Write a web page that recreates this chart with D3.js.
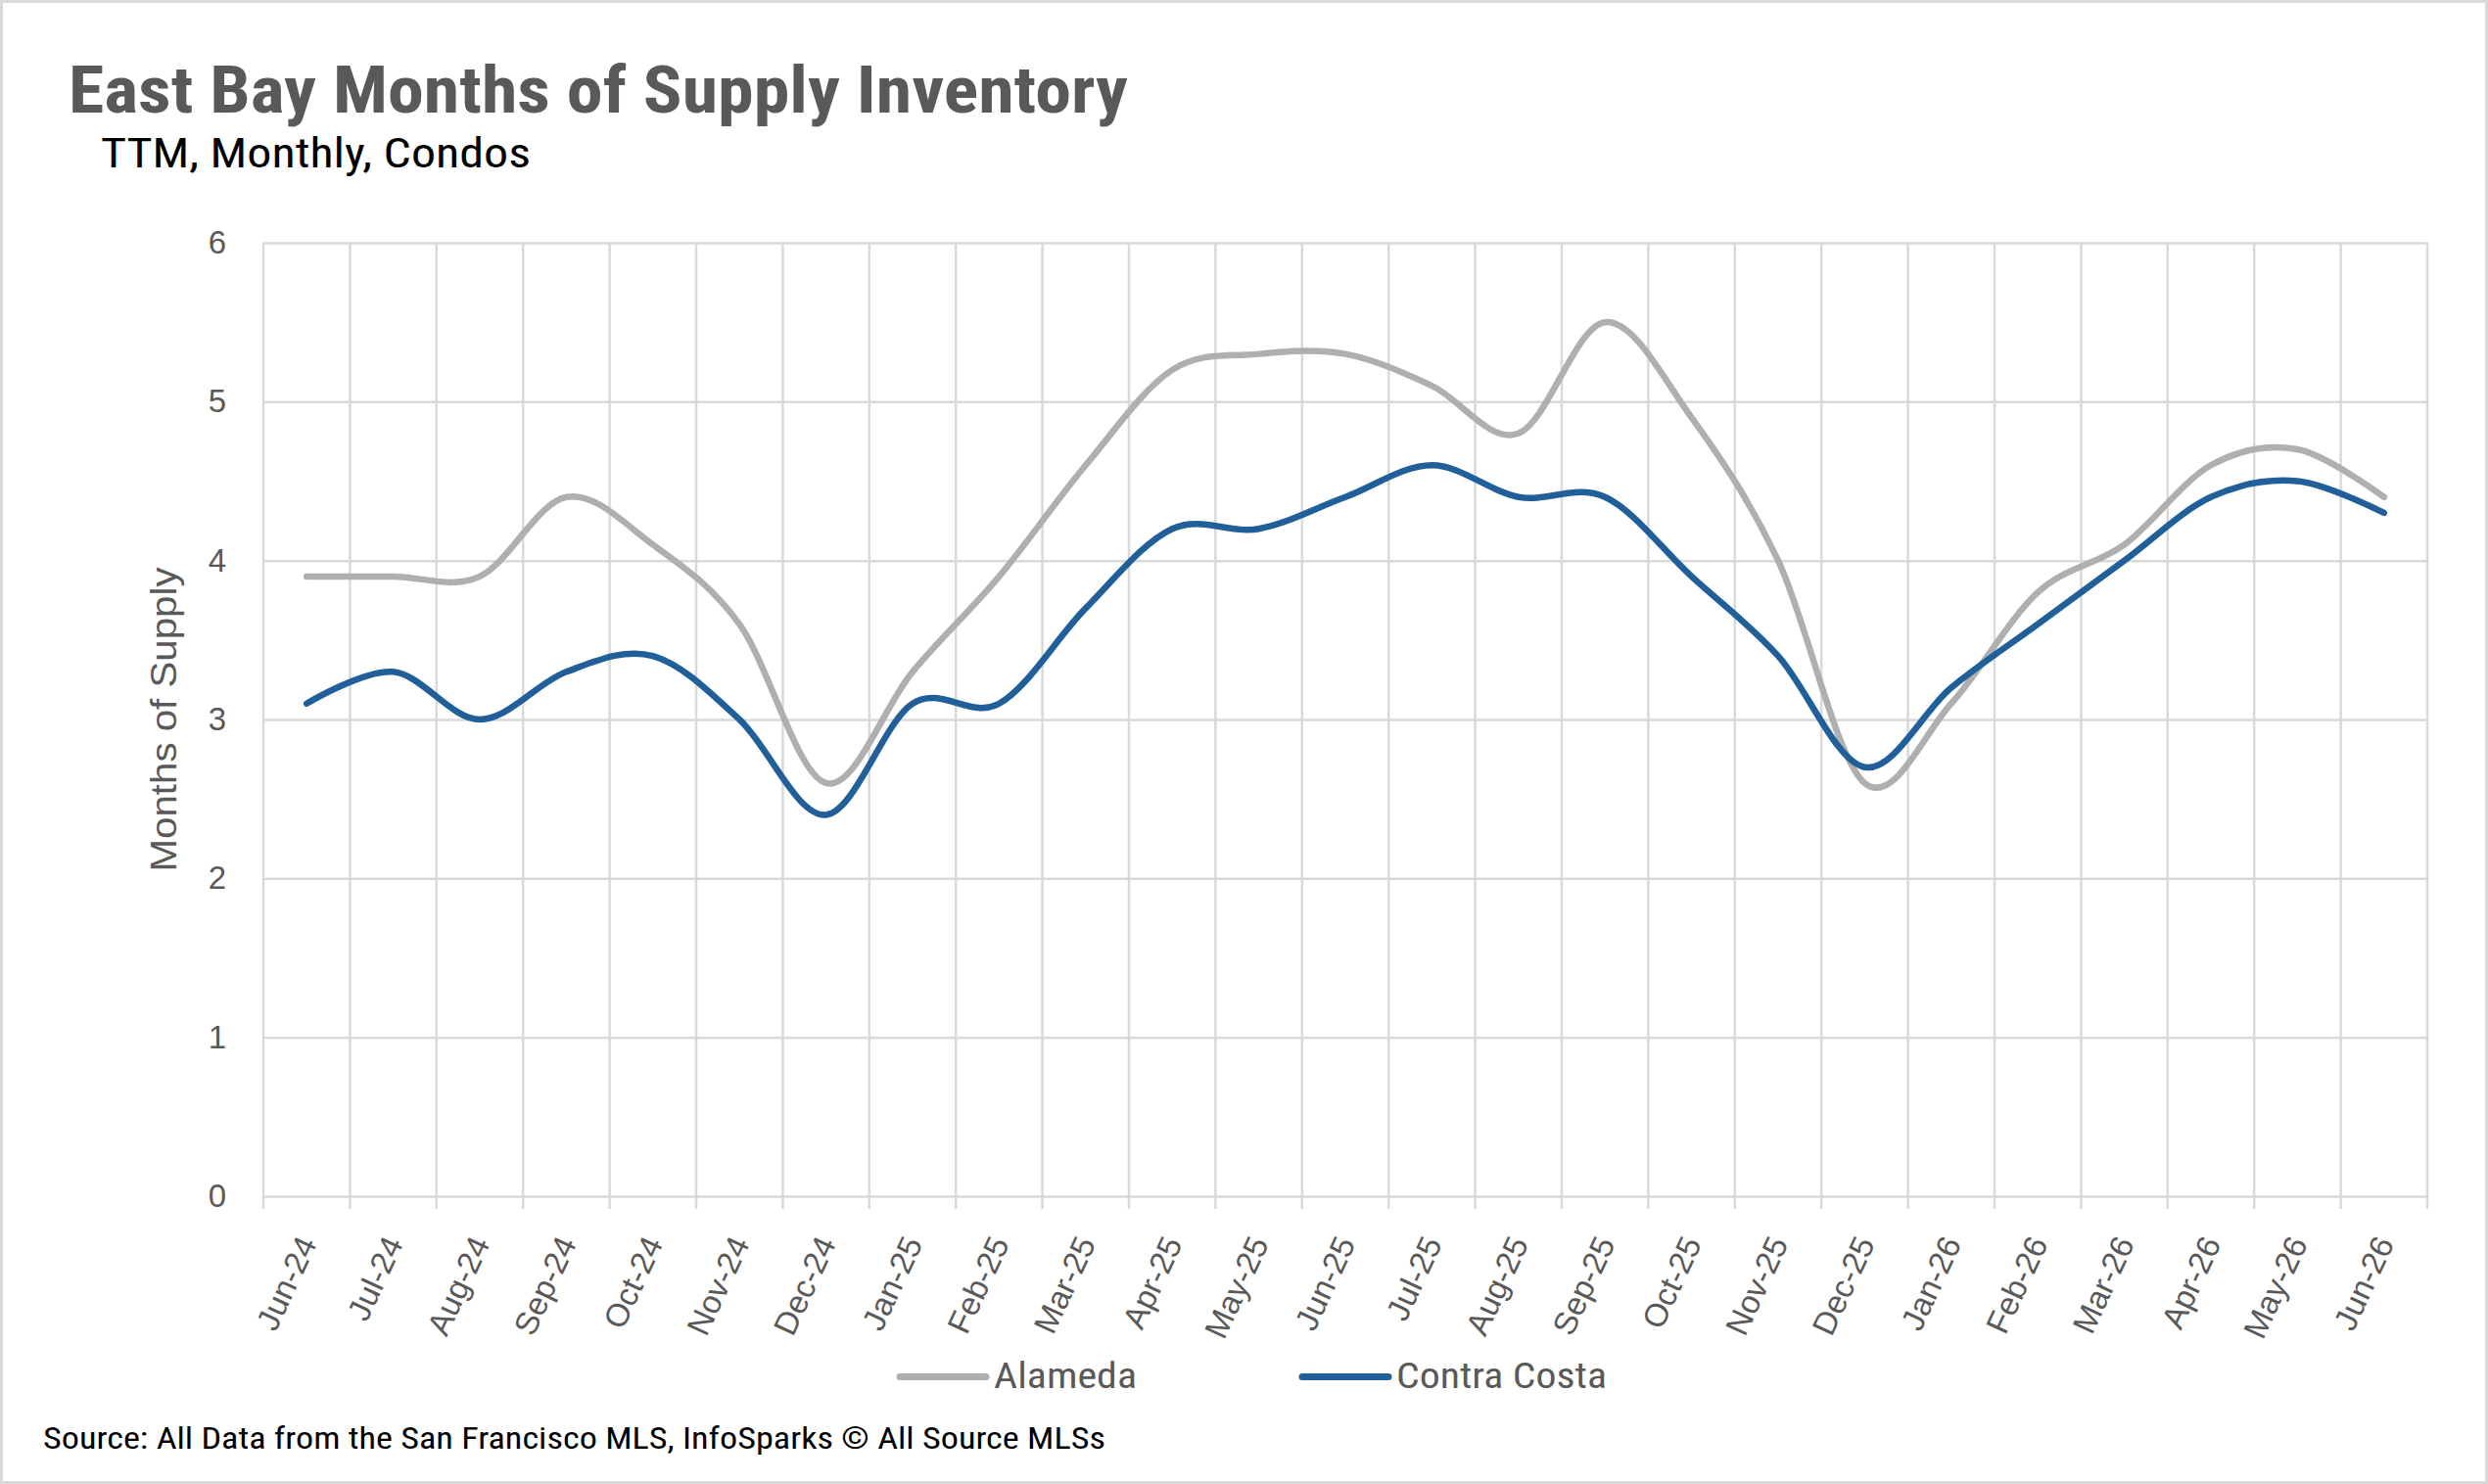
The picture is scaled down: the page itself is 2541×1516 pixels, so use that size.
<!DOCTYPE html>
<html><head><meta charset="utf-8">
<script src="https://cdn.jsdelivr.net/npm/d3@7"></script>
<style>html,body{margin:0;padding:0;background:#fff;} svg{display:block;}</style>
</head><body>
<svg id="chart" width="2541" height="1516"></svg>
<script>
const months = ["Jun-24","Jul-24","Aug-24","Sep-24","Oct-24","Nov-24","Dec-24","Jan-25","Feb-25","Mar-25","Apr-25","May-25","Jun-25","Jul-25","Aug-25","Sep-25","Oct-25","Nov-25","Dec-25","Jan-26","Feb-26","Mar-26","Apr-26","May-26","Jun-26"];
const alameda = [3.9,3.9,3.9,4.4,4.1,3.6,2.6,3.3,3.9,4.6,5.2,5.3,5.3,5.1,4.8,5.5,4.9,4.0,2.6,3.1,3.8,4.1,4.6,4.7,4.4];
const contraCosta = [3.1,3.3,3.0,3.3,3.4,3.0,2.4,3.1,3.1,3.7,4.2,4.2,4.4,4.6,4.4,4.4,3.9,3.4,2.7,3.2,3.6,4.0,4.4,4.5,4.3];
const yTicks = [0,1,2,3,4,5,6];
const seriesNames = ["Alameda","Contra Costa"];
const seriesColors = ["#afafaf","#215f9a"];

const W = 2541, H = 1516;
const M = {left:269, right:2479, top:248, bottom:1222};
const narrow = "'Liberation Sans Narrow','Arial Narrow','Roboto Condensed','DejaVu Sans Condensed',sans-serif";
const regular = "'Liberation Sans',Arial,sans-serif";

const svg = d3.select("#chart");
svg.append("rect").attr("x",0).attr("y",0).attr("width",W).attr("height",H).attr("fill","#fff");
svg.append("rect").attr("x",1.5).attr("y",1.5).attr("width",W-3).attr("height",H-3)
  .attr("fill","none").attr("stroke","#d9d9d9").attr("stroke-width",3);

const x = d3.scaleBand().domain(months).range([M.left, M.right]).padding(0);
const y = d3.scaleLinear().domain([0,6]).range([M.bottom, M.top]);
const cx = m => x(m) + x.bandwidth()/2;

// horizontal gridlines + y labels
const gy = svg.append("g").attr("transform",`translate(${M.left},0)`)
  .call(d3.axisLeft(y).tickValues(yTicks).tickSize(-(M.right-M.left)).tickPadding(38).tickFormat(d3.format("d")));
gy.select(".domain").remove();
gy.selectAll(".tick line").attr("stroke","#d9d9d9").attr("stroke-width",2.5);
gy.selectAll(".tick text").attr("font-family",regular).attr("font-size",33).attr("fill","#595959");

// vertical gridlines at category boundaries (with tick marks below axis)
const bounds = months.map(m => x(m)).concat([x.range()[1]]);
svg.append("g").selectAll("line").data(bounds).join("line")
  .attr("x1",d=>d).attr("x2",d=>d).attr("y1",y(6)).attr("y2",M.bottom+13)
  .attr("stroke","#d9d9d9").attr("stroke-width",2.5);

// x labels
svg.append("g").selectAll("text").data(months).join("text")
  .attr("transform",d=>`translate(${cx(d)+11},1270) rotate(-65)`)
  .attr("text-anchor","end")
  .attr("font-family",regular).attr("font-size",33).attr("fill","#595959")
  .text(d=>d);

// y axis title
svg.append("text").attr("transform",`translate(180,${(M.top+M.bottom)/2}) rotate(-90)`)
  .attr("text-anchor","middle").attr("font-family",regular).attr("font-size",36)
  .attr("fill","#595959").attr("textLength",311).attr("lengthAdjust","spacingAndGlyphs")
  .text("Months of Supply");

// lines
const line = d3.line().x((d,i)=>cx(months[i])).y(d=>y(d)).curve(d3.curveCatmullRom.alpha(0));
[alameda, contraCosta].forEach((s,k)=>{
  svg.append("path").datum(s).attr("d",line).attr("fill","none")
    .attr("stroke",seriesColors[k]).attr("stroke-width",6.5)
    .attr("stroke-linecap","round").attr("stroke-linejoin","round");
});

// legend
const legX = [919, 1330], legTX = [1015, 1426], legLen = [146, 215];
seriesNames.forEach((n,k)=>{
  svg.append("line").attr("x1",legX[k]).attr("x2",legX[k]+88).attr("y1",1406.5).attr("y2",1406.5)
    .attr("stroke",seriesColors[k]).attr("stroke-width",7).attr("stroke-linecap","round");
  svg.append("text").attr("x",legTX[k]).attr("y",1418).attr("font-family",narrow).attr("font-size",37)
    .attr("fill","#595959").attr("textLength",legLen[k]).attr("lengthAdjust","spacingAndGlyphs").text(n);
});

// titles
svg.append("text").attr("x",70).attr("y",115).attr("font-family",narrow).attr("font-weight","bold")
  .attr("font-size",66).attr("fill","#595959").attr("textLength",1082).attr("lengthAdjust","spacingAndGlyphs")
  .text("East Bay Months of Supply Inventory");
svg.append("text").attr("x",103).attr("y",171).attr("font-family",narrow)
  .attr("font-size",42).attr("fill","#000").attr("textLength",439).attr("lengthAdjust","spacingAndGlyphs")
  .text("TTM, Monthly, Condos");
svg.append("text").attr("x",44).attr("y",1480).attr("font-family",narrow)
  .attr("font-size",32).attr("fill","#000").attr("textLength",1085).attr("lengthAdjust","spacingAndGlyphs")
  .text("Source: All Data from the San Francisco MLS, InfoSparks © All Source MLSs");
</script>
</body></html>
